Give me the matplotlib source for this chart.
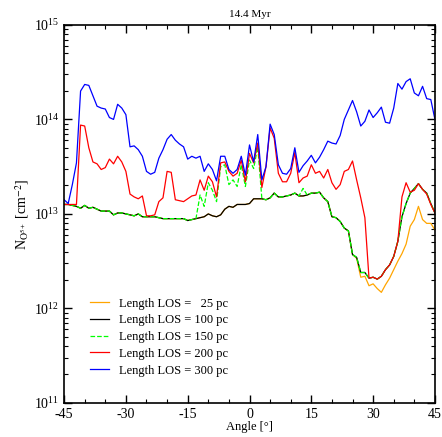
import numpy as np
import matplotlib
matplotlib.use("Agg")
import matplotlib.pyplot as plt
from matplotlib.ticker import LogLocator, MultipleLocator, NullFormatter

plt.rcParams.update({
    "font.family": "serif",
    "font.serif": ["Liberation Serif", "DejaVu Serif"],
    "mathtext.fontset": "stix",
    "font.size": 10,
    "axes.unicode_minus": False,
    "xtick.direction": "in", "ytick.direction": "in",
    "xtick.top": True, "ytick.right": True,
})

angles = np.arange(-45, 46)

# log10 of column density (1 degree steps, -45 .. 45)
los100 = [13.10, 13.10, 13.09, 13.08, 13.06, 13.09, 13.06, 13.07, 13.05, 13.03,
          13.03, 13.03, 12.99, 13.01, 13.01, 13.00, 12.99, 12.98, 13.00, 12.97,
          12.97, 12.97, 12.97, 12.96, 12.95, 12.95, 12.95, 12.95, 12.95, 12.95,
          12.93, 12.94, 12.95, 12.96, 12.97, 13.00, 12.98, 12.97, 12.99, 13.05,
          13.08, 13.07, 13.10, 13.10, 13.10, 13.11, 13.16, 13.16, 13.16, 13.15,
          13.17, 13.22, 13.18, 13.18, 13.19, 13.20, 13.22, 13.19, 13.19, 13.20,
          13.22, 13.22, 13.23, 13.17, 13.13, 12.97, 12.96, 12.92, 12.85, 12.82,
          12.57, 12.54, 12.38, 12.38, 12.32, 12.33, 12.31, 12.34, 12.41, 12.46,
          12.55, 12.71, 12.97, 13.11, 13.22, 13.27, 13.32, 13.26, 13.22, 13.11,
          13.01]

# 25 pc: same as 100 pc up to 25 deg
los25_tail = [12.53, 12.33, 12.34, 12.24, 12.26, 12.21, 12.17, 12.25, 12.32, 12.41,
              12.50, 12.58, 12.68, 12.87, 12.94, 13.08, 12.94, 12.90, 12.90, 12.83]
los25 = los100[:71] + los25_tail

# 150 pc: same as 100 pc except these angles
los150_diff = {-12: 13.20, -11: 13.08, -10: 13.33, -9: 13.25, -8: 13.13,
               -7: 13.50, -6: 13.52, -5: 13.31, -4: 13.36, -3: 13.29,
               -2: 13.52, -1: 13.29, 0: 13.57, 1: 13.48, 2: 13.71, 13: 13.27}
los150 = [los150_diff.get(a, v) for a, v in zip(angles, los100)]

los200 = [13.10, 13.10, 13.10, 13.10, 13.94, 13.93, 13.70, 13.55, 13.53, 13.47,
          13.49, 13.58, 13.53, 13.61, 13.55, 13.45, 13.21, 13.18, 13.16, 13.19,
          12.98, 12.98, 12.99, 13.13, 13.17, 13.45, 13.44, 13.15, 13.14, 13.13,
          13.16, 13.19, 13.20, 13.36, 13.25, 13.40, 13.34, 13.18, 13.54, 13.55,
          13.45, 13.40, 13.43, 13.57, 13.34, 13.64, 13.54, 13.75, 13.28, 13.50,
          13.91, 13.80, 13.43, 13.34, 13.34, 13.43, 13.65, 13.33, 13.38, 13.40,
          13.52, 13.43, 13.45, 13.38, 13.47, 13.33, 13.26, 13.31, 13.45, 13.47,
          13.56, 13.36, 13.17, 12.96, 12.32, 12.33, 12.31, 12.34, 12.41, 12.46,
          12.55, 12.71, 13.18, 13.33, 13.23, 13.25, 13.32, 13.26, 13.21, 13.10,
          13.01]

los300 = [13.15, 13.11, 13.31, 13.54, 14.30, 14.37, 14.36, 14.25, 14.14, 14.12,
          14.11, 14.02, 14.00, 14.16, 14.12, 14.05, 13.71, 13.72, 13.68, 13.61,
          13.45, 13.42, 13.44, 13.59, 13.68, 13.79, 13.84, 13.78, 13.74, 13.71,
          13.58, 13.61, 13.59, 13.61, 13.45, 13.53, 13.47, 13.35, 13.61, 13.61,
          13.47, 13.43, 13.47, 13.61, 13.41, 13.73, 13.55, 13.84, 13.36, 13.50,
          13.95, 13.84, 13.52, 13.43, 13.42, 13.48, 13.70, 13.44, 13.51, 13.56,
          13.62, 13.54, 13.60, 13.68, 13.77, 13.75, 13.74, 13.83, 14.00, 14.10,
          14.20, 14.08, 13.93, 13.98, 14.10, 14.02, 14.07, 14.13, 13.97, 13.96,
          14.12, 14.38, 14.32, 14.40, 14.43, 14.28, 14.25, 14.35, 14.22, 14.21,
          14.00]

series = [
    ("Length LOS =   25 pc", los25, "#FFA500", "-"),
    ("Length LOS = 100 pc", los100, "black", "-"),
    ("Length LOS = 150 pc", los150, "#00FF00", "--"),
    ("Length LOS = 200 pc", los200, "#FF0000", "-"),
    ("Length LOS = 300 pc", los300, "#0000FF", "-"),
]

fig = plt.figure(figsize=(4.42, 4.37), dpi=100)
ax = fig.add_axes([0.145, 0.078, 0.839, 0.865])

for label, vals, col, ls in series:
    ax.plot(angles, 10 ** np.asarray(vals), color=col, ls=ls, lw=0.9, label=label)

ax.set_yscale("log")
ax.set_xlim(-45, 45)
ax.set_ylim(1e11, 1e15)
ax.xaxis.set_major_locator(MultipleLocator(15))
ax.xaxis.set_minor_locator(MultipleLocator(5))
ax.yaxis.set_major_locator(LogLocator(base=10, numticks=10))
ax.yaxis.set_minor_locator(LogLocator(base=10, subs=np.arange(2, 10), numticks=10))
ax.yaxis.set_minor_formatter(NullFormatter())
ax.tick_params(which="major", length=6, width=1.0, labelsize=10)
ax.tick_params(which="minor", length=3, width=0.8)
for sp in ax.spines.values():
    sp.set_linewidth(1.2)

ax.set_xlabel("Angle [°]", fontsize=9, labelpad=0)
ax.set_ylabel(r"N$_{\mathrm{O}^{5+}}$ [cm$^{-2}$]", fontsize=10, labelpad=2)
ax.set_title("14.4 Myr", fontsize=8, pad=6)

ax.legend(loc="lower left", bbox_to_anchor=(0.04, 0.04), frameon=False,
          fontsize=9, handlelength=1.5, handletextpad=0.8, labelspacing=0.38)

fig.savefig("out.png", dpi=100)
